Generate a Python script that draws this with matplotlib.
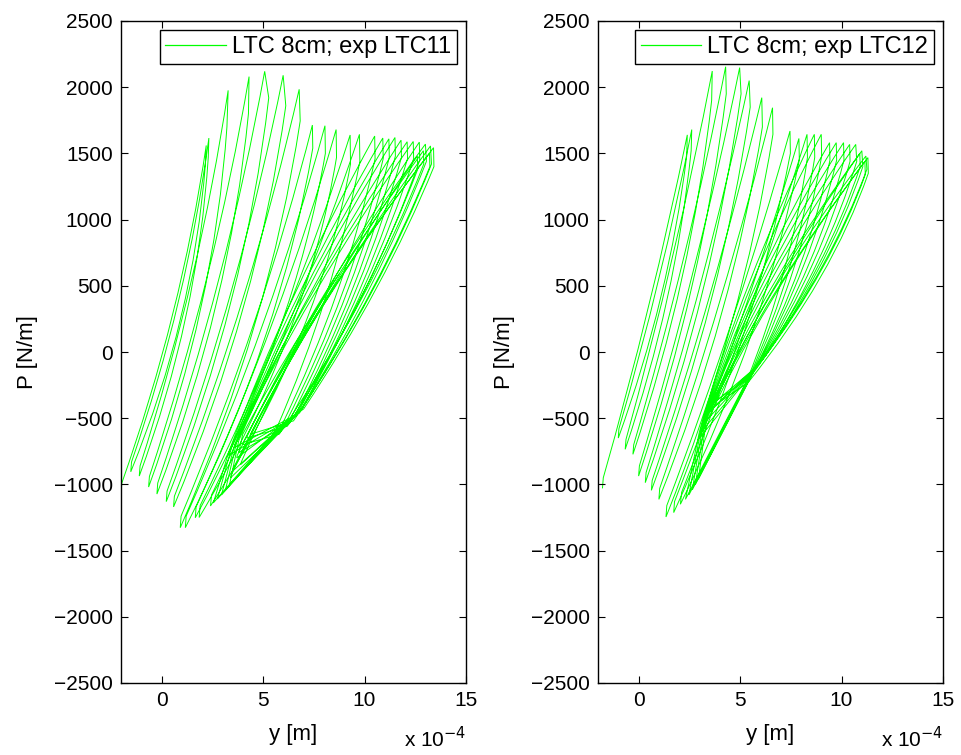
import numpy as np
import matplotlib
matplotlib.use("Agg")
import matplotlib.pyplot as plt
from matplotlib.path import Path
from matplotlib.patches import PathPatch
from matplotlib.lines import Line2D

plt.rcParams['font.family'] = ['Liberation Sans', 'DejaVu Sans']

nan = np.nan

# ---------------- data (y in units of 1e-4 m, P in N/m) ----------------
# Left panel: LTC 8cm; exp LTC11
l_valley_x = [-2.00, -1.52, -1.10, -0.64, -0.23, 0.23, 0.59, 0.92, 1.17, 1.66, 1.85, 2.41,
              2.55, 2.75, 2.95, 3.15, 3.35, 3.30, 3.60, 3.90, 4.20, 3.50, 4.40, 3.70,
              4.00, 3.40, 3.80]
l_valley_y = [-1070, -905, -937, -1020, -1073, -1130, -1170, -1327, -1327, -1252, -1250, -1163,
              -1140, -1110, -1080, -1040, -1000, -780, -720, -850, -650, -900, -620, -800,
              -700, -950, -760]
l_rise_x = [-1.96, -1.48, -1.06, -0.60, -0.19, 0.27, 0.63, 0.96, 1.21, 1.70, 1.90, 2.46,
            3.30, 3.45, 3.60, 3.70, 3.80, 3.33, 3.63, 3.93, 4.23, 3.53, 4.43, 3.73,
            4.03, 3.43, 4.00]
l_rise_y = [-990, -830, -860, -940, -990, -1050, -1090, -1240, -1240, -1170, -1160, -1080,
            -760, -720, -700, -680, -670, -760, -700, -830, -630, -880, -605, -780,
            -680, -930, -620]
l_peak_x = [2.20, 2.33, 3.28, 4.31, 5.08, 5.99, 6.78, 7.43, 8.05, 8.60, 9.29, 9.75,
            10.50, 10.90, 11.20, 11.50, 11.80, 12.10, 12.40, 12.70, 13.00, 13.25, 13.40, 12.90,
            13.20, 12.60, 8.75]
l_peak_y = [1560, 1616, 1976, 2080, 2120, 2090, 1984, 1714, 1709, 1680, 1639, 1644,
            1631, 1616, 1610, 1620, 1600, 1588, 1590, 1585, 1570, 1556, 1543, 1520,
            1500, 1480, 590]
l_up_mid_x = [0.55, 0.85, 1.50, 2.25, 2.85, 3.55, 4.10, 4.60, 5.05, 5.55, 6.00, 6.45,
              6.55, 6.80, 7.00, 7.20, 7.40, 7.30, 7.55, 7.85, 8.15, 7.90, 8.45, 7.85,
              8.15, 7.60, 6.25]
l_drop_x = [2.16, 2.30, 3.22, 4.28, 5.28, 6.12, 6.83, 7.45, 8.07, 8.62, 9.31, 9.77,
            10.52, 10.92, 11.22, 11.52, 11.82, 12.12, 12.42, 12.72, 13.05, 13.30, 13.42, 12.92,
            13.22, 12.62]
l_drop_y = [1420, 1470, 1700, 1800, 1920, 1860, 1745, 1540, 1500, 1470, 1420, 1440,
            1460, 1460, 1470, 1480, 1470, 1460, 1460, 1450, 1440, 1420, 1400, 1420,
            1400, 1380]
l_down_mid_x = [0.95, 1.20, 1.95, 2.70, 3.45, 4.05, 4.60, 5.10, 5.70, 6.20, 6.85, 8.10,
                8.65, 8.95, 9.20, 9.45, 9.65, 9.85, 10.05, 9.95, 10.35, 10.35, 10.60, 9.85,
                10.40, 9.85]
l_knee_x = [nan, nan, nan, nan, nan, nan, nan, nan, nan, nan, nan, 5.60,
            5.90, 6.10, 6.30, 6.50, 6.65, 6.80, 6.90, 6.20, 6.95, 6.50, 7.00, 5.80,
            6.85, 6.30]
l_knee_y = [nan, nan, nan, nan, nan, nan, nan, nan, nan, nan, nan, -600,
            -560, -540, -520, -500, -480, -460, -430, -560, -420, -520, -430, -620,
            -445, -540]

# Right panel: LTC 8cm; exp LTC12
r_valley_x = [-1.78, -1.00, -0.66, -0.28, 0.00, 0.33, 0.63, 1.00, 1.35, 1.73, 2.06, 2.31,
              2.48, 2.65, 2.80, 2.95, 3.30, 3.60, 3.10, 3.70, 3.20, 3.50, 3.00, 3.40]
r_valley_y = [-1030, -650, -735, -773, -937, -987, -1045, -1113, -1246, -1213, -1150, -1113,
              -1080, -1040, -1000, -960, -480, -400, -600, -380, -540, -430, -650, -460]
r_rise_x = [-1.74, -0.97, -0.62, -0.24, 0.04, 0.37, 0.67, 1.04, 1.39, 1.77, 2.12, 3.00,
            3.10, 3.20, 3.30, 3.38, 3.33, 3.63, 3.13, 3.73, 3.23, 3.53, 3.03]
r_rise_y = [-950, -580, -660, -700, -860, -910, -970, -1030, -1160, -1130, -1060, -600,
            -560, -520, -490, -465, -470, -390, -585, -370, -530, -420, -635]
r_peak_x = [2.40, 2.62, 3.63, 4.29, 4.98, 5.45, 6.07, 6.60, 7.46, 7.90, 8.30, 8.66,
            9.00, 9.41, 9.74, 10.10, 10.40, 10.70, 11.00, 11.20, 11.30, 10.90, 11.15]
r_peak_y = [1640, 1680, 2122, 2155, 2148, 2050, 1921, 1845, 1669, 1613, 1644, 1644,
            1644, 1581, 1581, 1581, 1568, 1568, 1520, 1480, 1468, 1500, 1440]
r_up_mid_x = [0.50, 1.00, 1.70, 2.25, 2.75, 3.15, 3.60, 4.05, 4.65, 5.05, 5.40, 5.45,
              5.65, 5.85, 6.05, 6.25, 6.40, 6.70, 6.60, 7.00, 6.80, 6.75, 6.60]
r_drop_x = [2.37, 2.59, 3.60, 4.32, 5.05, 5.50, 6.10, 6.62, 7.48, 7.92, 8.32, 8.68,
            9.02, 9.43, 9.76, 10.12, 10.42, 10.75, 11.05, 11.25, 11.32, 10.92, 11.17]
r_drop_y = [1480, 1520, 1900, 1950, 1950, 1850, 1700, 1644, 1500, 1450, 1470, 1470,
            1480, 1450, 1450, 1450, 1440, 1440, 1400, 1380, 1350, 1400, 1340]
r_down_mid_x = [1.10, 1.40, 2.15, 2.65, 3.20, 3.60, 4.10, 4.55, 5.20, 5.60, 7.20, 7.45,
                7.70, 7.95, 8.15, 8.40, 8.60, 8.90, 8.80, 9.10, 8.95, 8.80, 9.05]
r_knee_x = [nan, nan, nan, nan, nan, nan, nan, nan, nan, nan, 5.35, 5.45,
            5.55, 5.65, 5.72, 5.78, 5.90, 6.25, 5.50, 6.10, 5.40, 5.75, 6.00]
r_knee_y = [nan, nan, nan, nan, nan, nan, nan, nan, nan, nan, -210, -190,
            -170, -150, -135, -120, -100, -30, -190, -60, -230, -130, -80]

labels = ["LTC 8cm; exp LTC11", "LTC 8cm; exp LTC12"]
x_ticks = [0, 5, 10, 15]
y_ticks = [-2500, -2000, -1500, -1000, -500, 0, 500, 1000, 1500, 2000, 2500]
GREEN = (0, 1, 0)


def loop_path(vx, vy, jx, jy, px, py, dx, dy, umx, dmx, kx, ky):
    verts = [(vx[0], vy[0])]
    codes = [Path.MOVETO]
    for i in range(len(px)):
        verts.append((jx[i], jy[i])); codes.append(Path.LINETO)
        c = (2 * umx[i] - (jx[i] + px[i]) / 2, (jy[i] + py[i]) / 2)
        verts += [c, (px[i], py[i])]; codes += [Path.CURVE3, Path.CURVE3]
        if i >= len(dx):
            break
        verts.append((dx[i], dy[i])); codes.append(Path.LINETO)
        knee = not np.isnan(kx[i])
        end = (kx[i], ky[i]) if knee else (vx[i + 1], vy[i + 1])
        c = (2 * dmx[i] - (dx[i] + end[0]) / 2, (dy[i] + end[1]) / 2)
        verts += [c, end]; codes += [Path.CURVE3, Path.CURVE3]
        if knee:
            verts.append((vx[i + 1], vy[i + 1])); codes.append(Path.LINETO)
    return Path(verts, codes)


fig = plt.figure(figsize=(9.61, 7.55), dpi=100)
ax1 = fig.add_axes([121 / 961, 72 / 755, 345 / 961, 662 / 755])
ax2 = fig.add_axes([598 / 961, 72 / 755, 345 / 961, 662 / 755])

panels = [
    (ax1, l_valley_x, l_valley_y, l_rise_x, l_rise_y, l_peak_x, l_peak_y, l_drop_x, l_drop_y,
     l_up_mid_x, l_down_mid_x, l_knee_x, l_knee_y, labels[0]),
    (ax2, r_valley_x, r_valley_y, r_rise_x, r_rise_y, r_peak_x, r_peak_y, r_drop_x, r_drop_y,
     r_up_mid_x, r_down_mid_x, r_knee_x, r_knee_y, labels[1]),
]

for (ax, vx, vy, jx, jy, px, py, dx, dy, umx, dmx, kx, ky, lab) in panels:
    path = loop_path(vx, vy, jx, jy, px, py, dx, dy, umx, dmx, kx, ky)
    ax.add_patch(PathPatch(path, facecolor='none', edgecolor=GREEN, lw=0.7))
    ax.set_xlim(-2, 15)
    ax.set_ylim(-2500, 2500)
    ax.set_xticks(x_ticks)
    ax.set_yticks(y_ticks)
    ax.tick_params(direction='in', top=True, right=True, labelsize=15, length=5,
                   width=0.8, pad=6)
    for s in ax.spines.values():
        s.set_linewidth(1.0)
    ax.set_xlabel('y [m]', fontsize=16, labelpad=10)
    ax.set_ylabel('P [N/m]', fontsize=16, labelpad=11)
    ax.text(1.0, -0.103, r'x 10$^{-4}$', transform=ax.transAxes, ha='right', va='bottom',
            fontsize=15)
    h = Line2D([], [], color=GREEN, lw=0.9)
    leg = ax.legend([h], [lab], loc='upper right', fontsize=17, fancybox=False,
                    edgecolor='black', framealpha=1, handlelength=2.55,
                    borderaxespad=0.4, borderpad=0.25, handletextpad=0.25)
    leg.get_frame().set_linewidth(1.0)

fig.savefig('out.png', dpi=100)
